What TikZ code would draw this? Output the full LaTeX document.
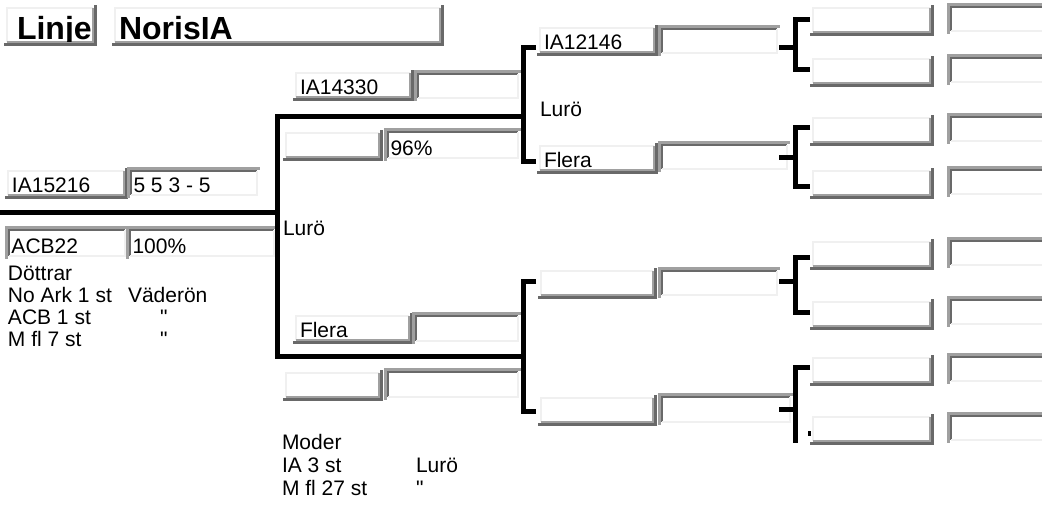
\documentclass[tikz,border=0pt]{standalone}
\usepackage[svgnames]{xcolor}
\usepackage{fontspec}
\setmainfont{Liberation Sans}[Ligatures=TeXOff]
\usepackage{tikz}

\definecolor{lightColor}{RGB}{240,240,240}
\definecolor{midColor}{RGB}{160,160,160}
\definecolor{darkColor}{RGB}{105,105,105}
\definecolor{lineColor}{RGB}{0,0,0}

\tikzset{
  fieldbox/.style={anchor=north west,inner sep=0pt,outer sep=0pt},
  fieldtext/.style={text=lineColor,anchor=base west,inner sep=0pt,outer sep=0pt,font=\fontsize{21}{24}\selectfont},
  titletext/.style={fieldtext,font=\bfseries\fontsize{32}{35}\selectfont},
  edgeLight/.style={draw=lightColor,line width=2.5pt},
  edgeMid/.style={draw=midColor,line width=2.5pt},
  edgeDark/.style={draw=darkColor,line width=2.5pt},
  bracket/.style={draw=lineColor,line width=5pt,line join=miter}
}

% raised field: [text style]{name}{x,y of top left}{width}{height}{text}
\newcommand{\raisedfield}[6][fieldtext]{%
  \node[fieldbox,minimum width=#4pt,minimum height=#5pt] (#2) at (#3) {};
  \path[edgeLight] (#2.south west) -- (#2.north west) -- (#2.north east);
  \path[edgeMid] (#2.south west) -- (#2.south east) -- (#2.north east);
  \path[edgeDark] ([shift={(-3,-2.5)}]#2.south west) -- ([shift={(2.5,-2.5)}]#2.south east) -- ([shift={(2.5,3)}]#2.north east);
  \begin{scope}
  \path[clip] (#2.south west) rectangle (#2.north east);
  \node[#1] (#2-text) at ([shift={(4,2)}]#2.south west) {#6};
  \end{scope}
}
% sunken field
\newcommand{\sunkenfield}[6][fieldtext]{%
  \node[fieldbox,minimum width=#4pt,minimum height=#5pt] (#2) at (#3) {};
  \path[edgeMid] ([shift={(-2.5,-3)}]#2.south west) -- ([shift={(-2.5,2.5)}]#2.north west) -- ([shift={(3,2.5)}]#2.north east);
  \path[edgeDark] (#2.south west) -- (#2.north west) -- (#2.north east);
  \path[edgeLight] (#2.south west) -- (#2.south east) -- (#2.north east);
  \begin{scope}
  \path[clip] (#2.south west) rectangle (#2.north east);
  \node[#1] (#2-text) at ([shift={(2.5,2)}]#2.south west) {#6};
  \end{scope}
}

\begin{document}
\begin{tikzpicture}[x=1pt,y=1pt]
\path[use as bounding box,fill=white] (0,0) rectangle (1042,513);
\begin{scope}
\path[clip] (0,0) rectangle (1042,513);

% heading
\raisedfield[titletext,xshift=6]{linje}{7,505}{86}{34}{Linje}
\raisedfield[titletext]{noris}{115,505}{325}{34}{NorisIA}

% the animal itself
\raisedfield{ia15216}{8,342}{116}{24}{IA15216}
\sunkenfield{score}{131,342}{126}{24}{5 5 3 - 5}
\sunkenfield{acb22}{9,283}{116}{26}{ACB22}
\sunkenfield{pct100}{130,283}{144}{26}{100\%}

\node[fieldtext] (dottrar) at (8,232) {Döttrar};
\node[fieldtext] (noark) at (8,210) {No Ark 1 st};
\node[fieldtext] (noarkPlace) at (128,210) {Väderön};
\node[fieldtext] (acb) at (8,188) {ACB 1 st};
\node[fieldtext] (acbPlace) at (160,188) {"};
\node[fieldtext] (mfl) at (8,166) {M fl 7 st};
\node[fieldtext] (mflPlace) at (160,166) {"};

% parents
\raisedfield{ia14330}{296,440}{114}{24}{IA14330}
\sunkenfield{ia14330b}{418,439}{100}{24}{}
\raisedfield{sireNote}{286,380}{93}{24}{}
\sunkenfield{pct96}{388,381}{130}{26}{96\%}
\node[fieldtext] (sireLuro) at (283,277) {Lurö};
\raisedfield{flera}{296,197}{113}{24}{Flera}
\sunkenfield{flerab}{416,197}{102}{25}{}
\raisedfield{damNote}{286,140}{93}{24}{}
\sunkenfield{damNoteb}{388,141}{130}{25}{}

\node[fieldtext] (moder) at (282,63) {Moder};
\node[fieldtext] (ia3) at (282,40) {IA 3 st};
\node[fieldtext] (ia3Place) at (416,40) {Lurö};
\node[fieldtext] (mfl27) at (282,17) {M fl 27 st};
\node[fieldtext] (mfl27Place) at (416,17) {"};

% grandparents
\raisedfield{ia12146}{540,485}{114}{24}{IA12146}
\sunkenfield{ia12146b}{662,484}{115}{24}{}
\node[fieldtext] (gsLuro) at (540,396) {Lurö};
\raisedfield{flera2}{540,367}{114}{24}{Flera}
\sunkenfield{flera2b}{662,368}{125}{24}{}
\raisedfield{gdA}{541,242}{112}{24}{}
\sunkenfield{gdAb}{662,242}{115}{24}{}
\raisedfield{gdB}{541,115}{112}{24}{}
\sunkenfield{gdBb}{662,116}{128}{25}{}

% great grandparents
\raisedfield{ggA}{813,505}{117}{24}{}
\sunkenfield{ggAb}{951,506}{100}{24}{}
\raisedfield{ggB}{813,454}{117}{24}{}
\sunkenfield{ggBb}{951,455}{100}{24}{}
\raisedfield{ggC}{813,395}{117}{24}{}
\sunkenfield{ggCb}{951,396}{100}{24}{}
\raisedfield{ggD}{813,342}{117}{24}{}
\sunkenfield{ggDb}{951,343}{100}{24}{}
\raisedfield{ggE}{813,271}{117}{24}{}
\sunkenfield{ggEb}{951,272}{100}{24}{}
\raisedfield{ggF}{813,211}{117}{24}{}
\sunkenfield{ggFb}{951,213}{100}{24}{}
\raisedfield{ggG}{813,155}{117}{24}{}
\sunkenfield{ggGb}{951,156}{100}{24}{}
\raisedfield{ggH}{813,96}{117}{24}{}
\sunkenfield{ggHb}{951,97}{100}{24}{}

% brackets
\coordinate (root) at (0,300);
\coordinate (g1Mid) at (277,300);
\coordinate (g1Top) at (277,396);
\coordinate (g1Bot) at (277,156);
\coordinate (g2aMid) at (523,396);
\coordinate (g2bMid) at (523,156);
\coordinate (g2aTop) at (523,465);
\coordinate (g2aBot) at (523,351);
\coordinate (g2bTop) at (523,231);
\coordinate (g2bBot) at (523,101);

\path[bracket] (root) -- (g1Mid);
\path[bracket] (g2aMid) -- (g1Top) -- (g1Bot) -- (g2bMid);
\path[bracket] ([xshift=13]g2aTop) -- (g2aTop) -- (g2aBot) -- ([xshift=13]g2aBot);
\path[bracket] ([xshift=13]g2bTop) -- (g2bTop) -- (g2bBot) -- ([xshift=13]g2bBot);

\coordinate (g3aTop) at (795,493);
\coordinate (g3aMid) at (795,465);
\coordinate (g3aBot) at (795,443);
\coordinate (g3bTop) at (795,385);
\coordinate (g3bMid) at (795,355);
\coordinate (g3bBot) at (795,326);
\coordinate (g3cTop) at (795,255);
\coordinate (g3cMid) at (795,231);
\coordinate (g3cBot) at (795,200);
\coordinate (g3dTop) at (795,145);
\coordinate (g3dMid) at (795,103);
\coordinate (g3dBot) at (795,70);

\path[bracket] ([xshift=15]g3aTop) -- (g3aTop) -- (g3aBot) -- ([xshift=15]g3aBot);
\path[bracket] ([xshift=-16]g3aMid) -- (g3aMid);
\path[bracket] ([xshift=15]g3bTop) -- (g3bTop) -- (g3bBot) -- ([xshift=15]g3bBot);
\path[bracket] ([xshift=-16]g3bMid) -- (g3bMid);
\path[bracket] ([xshift=15]g3cTop) -- (g3cTop) -- (g3cBot) -- ([xshift=15]g3cBot);
\path[bracket] ([xshift=-16]g3cMid) -- (g3cMid);
\path[bracket] ([xshift=15]g3dTop) -- (g3dTop) -- (g3dBot);
\path[bracket] ([xshift=-16]g3dMid) -- (g3dMid);
\path[fill=lineColor] (807.5,76.5) rectangle (810.5,81.5);
\end{scope}
\end{tikzpicture}
\end{document}
